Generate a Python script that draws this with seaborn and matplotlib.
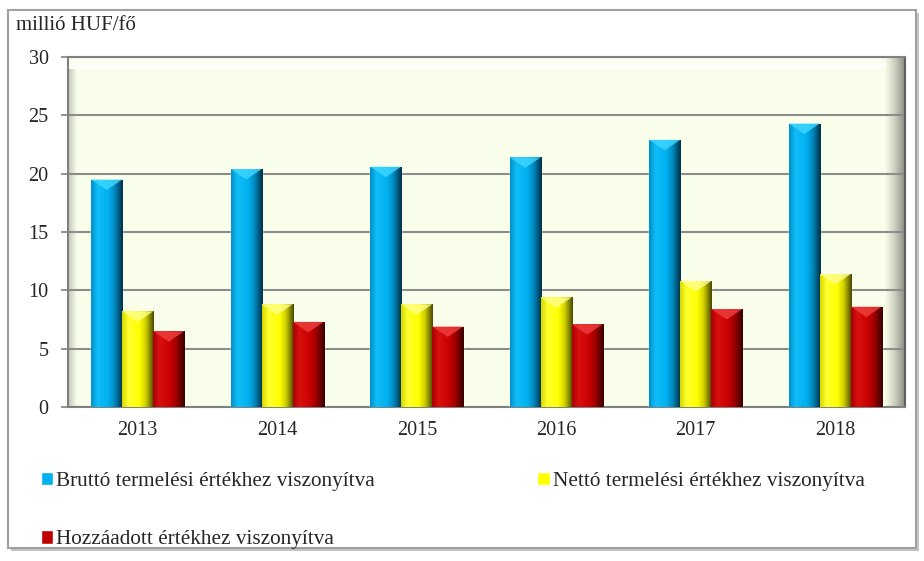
import numpy as np
import pandas as pd
import matplotlib
matplotlib.use("Agg")
import matplotlib.pyplot as plt
from matplotlib.colors import LinearSegmentedColormap
from matplotlib.patches import Patch, Rectangle, Polygon
import seaborn as sns

# adatok (millió HUF/fő)
years = ["2013", "2014", "2015", "2016", "2017", "2018"]
series = ["Bruttó termelési értékhez viszonyítva",
          "Nettó termelési értékhez viszonyítva",
          "Hozzáadott értékhez viszonyítva"]
brutto = [19.5, 20.4, 20.6, 21.4, 22.9, 24.3]
netto = [8.2, 8.8, 8.8, 9.4, 10.8, 11.4]
hozzaadott = [6.5, 7.3, 6.9, 7.1, 8.4, 8.6]

colors = ["#00B0F0", "#FFFF00", "#C00000"]
tops = ["#40D8FF", "#FFFF90", "#F04040"]
# sötét-világos-sötét átmenetek a "3D" hatáshoz
ramps = [[(0, "#0090C8"), (0.2, "#10BEF8"), (0.55, "#00B0F0"), (0.75, "#0088BC"), (1, "#003048")],
         [(0, "#D8D800"), (0.2, "#FFFF30"), (0.55, "#FFFF00"), (0.75, "#D0D000"), (1, "#484800")],
         [(0, "#A80000"), (0.2, "#D81010"), (0.55, "#C80000"), (0.75, "#980000"), (1, "#380000")]]

df = pd.DataFrame({
    "Év": years * 3,
    "Sorozat": [series[0]] * 6 + [series[1]] * 6 + [series[2]] * 6,
    "Érték": brutto + netto + hozzaadott,
})

sns.set_style("white")
plt.rcParams["font.family"] = ["Liberation Serif", "DejaVu Serif"]
plt.rcParams["font.size"] = 14.5

W, H = 924, 561
fig = plt.figure(figsize=(W / 100, H / 100), dpi=100)
ax = fig.add_axes([68 / W, 1 - 407 / H, (905 - 68) / W, (407 - 57) / H])

sns.barplot(data=df, x="Év", y="Érték", hue="Sorozat", palette=colors,
            width=0.667, saturation=1, ax=ax, legend=False, zorder=3)

# gradiens és felső "csúcs" a hasábokra
grad = np.linspace(0, 1, 64).reshape(1, -1)
bars = [p for p in ax.patches if p.get_height() > 0]
for i, p in enumerate(bars):
    cmap = LinearSegmentedColormap.from_list("r", ramps[i // 6])
    x, w, h = p.get_x(), p.get_width(), p.get_height()
    im = ax.imshow(grad, cmap=cmap, extent=[x, x + w, 0, h], aspect="auto",
                   zorder=4, interpolation="bicubic")
    im.set_clip_path(p)
    ax.add_patch(Polygon([(x, h), (x + w, h), (x + w / 2, h - 0.9)], closed=True,
                         facecolor=tops[i // 6], edgecolor="none", alpha=0.8, zorder=5))

# háttér
ax.set_facecolor("#F8FEE9")
shade = np.linspace(0, 1, 64).reshape(1, -1)
ax.imshow(shade, cmap=LinearSegmentedColormap.from_list("l", ["#C0C4B8", "#F8FEE9"]),
          extent=[0, 0.01, 0, 1], transform=ax.transAxes, aspect="auto", zorder=0)
ax.imshow(shade, cmap=LinearSegmentedColormap.from_list("rr", ["#F8FEE9", "#C8CCBC", "#85887C"]),
          extent=[0.976, 1, 0, 1], transform=ax.transAxes, aspect="auto", zorder=0)
ax.imshow(shade.T, cmap=LinearSegmentedColormap.from_list("t", ["#FFFFFF", "#F8FEE9"]),
          extent=[0, 0.976, 1, 0.965], transform=ax.transAxes, aspect="auto", zorder=0)
ax.set_xlim(-0.5, 5.5)
ax.set_ylim(0, 30)

ax.set_yticks(range(0, 31, 5))
ax.yaxis.grid(True, color="#8C8C8C", linewidth=1.5, zorder=1)
ax.set_axisbelow(True)
ax.set_xticks(np.arange(-0.5, 6, 1), minor=True)
ax.tick_params(axis="x", which="minor", length=5, color="#808080", width=1.2)
ax.tick_params(axis="x", which="major", length=0, pad=10)
ax.tick_params(axis="y", length=5, color="#808080", width=1.2, pad=9, left=True)
for s in ["left", "bottom", "top"]:
    ax.spines[s].set_color("#808080")
    ax.spines[s].set_linewidth(1.5)
ax.spines["right"].set_color("#606060")
ax.spines["right"].set_linewidth(1.5)
ax.set_xlabel("")
ax.set_ylabel("")

fig.text(16 / W, 1 - 25 / H, "millió HUF/fő", ha="left", va="center", fontsize=15)

# jelmagyarázat (sorfolytonos sorrend)
handles = [Patch(facecolor=colors[0]), Patch(facecolor=colors[2]), Patch(facecolor=colors[1])]
labels = [series[0], series[2], series[1]]
fig.legend(handles, labels, ncol=2, loc="upper left",
           bbox_to_anchor=(30 / W, 1 - 461 / H), frameon=False,
           prop={"family": "Liberation Serif", "size": 15.3},
           handlelength=0.6, handleheight=0.6, handletextpad=0.12,
           columnspacing=7.65, labelspacing=1.85, borderpad=0)

# külső keret árnyékkal
fig.patches.append(Rectangle((11 / W, 1 - 551 / H), 908 / W, 538 / H,
                             transform=fig.transFigure, facecolor="#C4C4C4",
                             edgecolor="none", zorder=-2))
fig.patches.append(Rectangle((8 / W, 1 - 548 / H), 908 / W, 538 / H,
                             transform=fig.transFigure, facecolor="white",
                             edgecolor="#A0A0A0", linewidth=1.5, zorder=-1))

fig.savefig("out.png", dpi=100)
